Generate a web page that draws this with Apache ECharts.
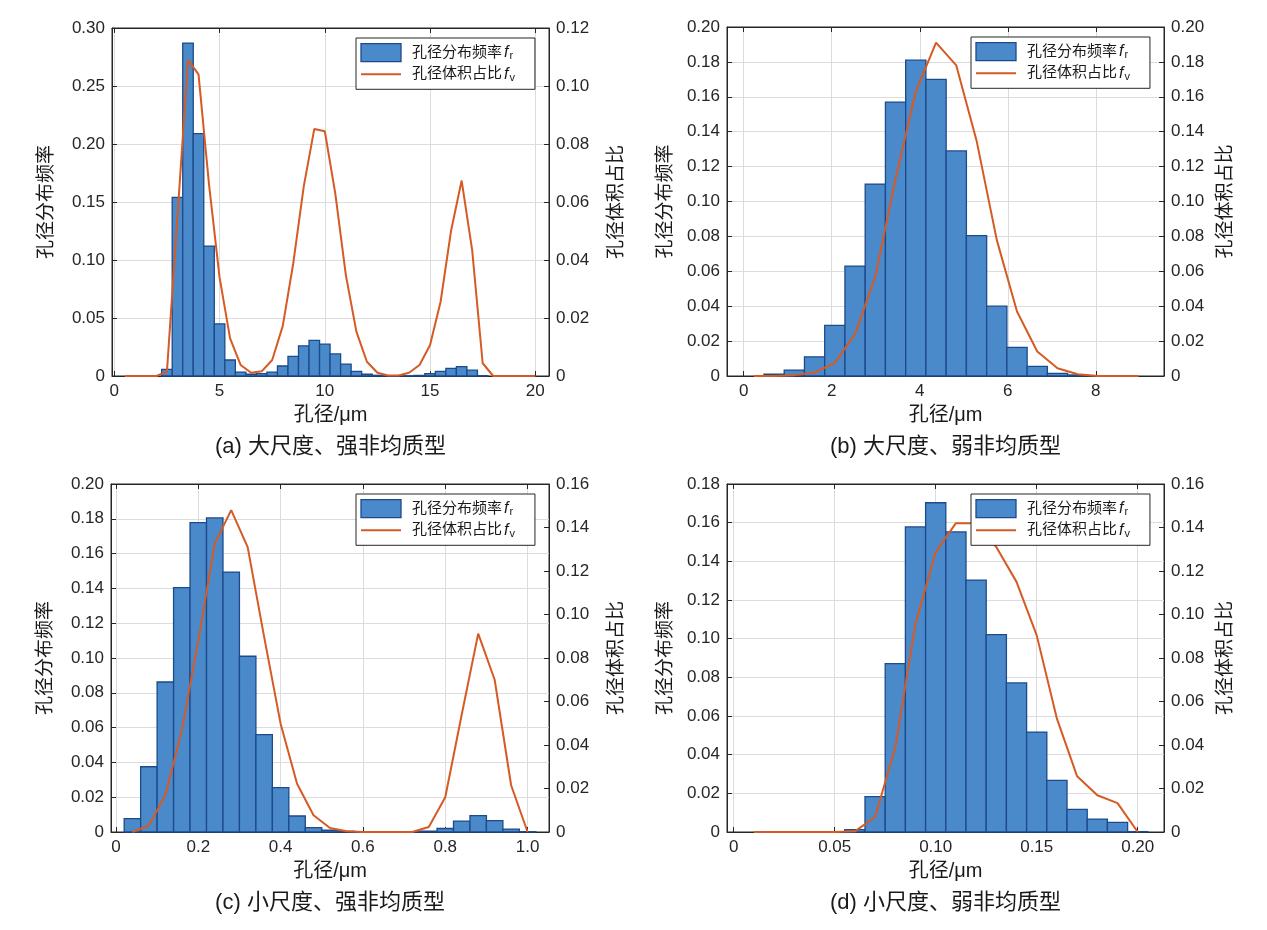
<!DOCTYPE html>
<html lang="zh">
<head>
<meta charset="utf-8">
<title>孔径分布频率与孔径体积占比</title>
<style>
  html, body { margin: 0; padding: 0; background: #fff; }
  #main { width: 1267px; height: 930px; }
</style>
</head>
<body>
<div id="main"></div>
<script src="https://cdn.jsdelivr.net/npm/echarts@6/dist/echarts.min.js"></script>
<script>
// (a) 大尺度、强非均质型  bin width 0.5 um
var aBinX = [2.5, 3, 3.5, 4, 4.5, 5, 5.5, 6, 6.5, 7, 7.5, 8, 8.5, 9, 9.5, 10, 10.5, 11, 11.5, 12,
             12.5, 13, 13.5, 14, 14.5, 15, 15.5, 16, 16.5, 17, 17.5];
var aFreq = [0.0057, 0.154, 0.287, 0.209, 0.112, 0.045, 0.0138, 0.0034, 0.0015, 0.002, 0.0034, 0.0086,
             0.017, 0.026, 0.0307, 0.0275, 0.019, 0.0103, 0.004, 0.0015, 0.0006, 0.0002, 0, 0.0002,
             0.0005, 0.002, 0.004, 0.0066, 0.008, 0.005, 0.0003];
var aVolX = [0.5, 1, 1.5, 2, 2.5, 3, 3.5, 4, 4.5, 5, 5.5, 6, 6.5, 7, 7.5, 8, 8.5, 9, 9.5, 10,
             10.5, 11, 11.5, 12, 12.5, 13, 13.5, 14, 14.5, 15, 15.5, 16, 16.5, 17, 17.5, 18, 18.5, 19, 19.5, 20];
var aVol = [0, 0, 0, 0, 0.0015, 0.055, 0.109, 0.104, 0.066, 0.034, 0.013, 0.0038, 0.0011, 0.0016,
            0.0055, 0.0172, 0.0388, 0.0654, 0.0852, 0.0844, 0.0628, 0.0348, 0.0153, 0.0049, 0.0011,
            0.0002, 0.0002, 0.0011, 0.0038, 0.0107, 0.0256, 0.0502, 0.0674, 0.0434, 0.0044, 0, 0, 0, 0, 0];
var aTicks = [0, 5, 10, 15, 20];

// (b) 大尺度、弱非均质型  bin width 0.46 um
var bBinX = [0.69, 1.15, 1.61, 2.07, 2.53, 2.99, 3.45, 3.91, 4.37, 4.83, 5.29, 5.75, 6.21, 6.67, 7.13, 7.59, 8.05];
var bFreq = [0.001, 0.0034, 0.011, 0.029, 0.063, 0.110, 0.157, 0.181, 0.170, 0.129, 0.0805, 0.040,
             0.0164, 0.0055, 0.0015, 0.0006, 0.0002];
var bVolX = [0.23, 0.69, 1.15, 1.61, 2.07, 2.53, 2.99, 3.45, 3.91, 4.37, 4.83, 5.29, 5.75, 6.21, 6.67,
             7.13, 7.59, 8.05, 8.51, 8.97];
var bVol = [0, 0, 0.0005, 0.002, 0.0075, 0.024, 0.057, 0.113, 0.163, 0.191, 0.178, 0.135, 0.078, 0.037,
            0.014, 0.0044, 0.001, 0, 0, 0];
var bTicks = [0, 2, 4, 6, 8];

// (c) 小尺度、强非均质型  bin width 0.04 um
var cBinX = [0.04, 0.08, 0.12, 0.16, 0.20, 0.24, 0.28, 0.32, 0.36, 0.40, 0.44, 0.48, 0.52, 0.56, 0.60,
             0.64, 0.68, 0.72, 0.76, 0.80, 0.84, 0.88, 0.92, 0.96, 1.00];
var cFreq = [0.0077, 0.0375, 0.0862, 0.1404, 0.1778, 0.1805, 0.1494, 0.101, 0.056, 0.0255, 0.0092, 0.0025,
             0.001, 0.0004, 0.0001, 0, 0, 0.0001, 0.0005, 0.002, 0.0063, 0.0094, 0.0065, 0.0017, 0.0002];
var cVolX = cBinX;
var cVol = [0, 0.003, 0.0169, 0.0467, 0.088, 0.1326, 0.148, 0.131, 0.0897, 0.0498, 0.0222, 0.0077, 0.0018,
            0.0003, 0, 0, 0, 0, 0.0023, 0.016, 0.054, 0.0912, 0.070, 0.0215, 0];
var cTicks = [0, 0.2, 0.4, 0.6, 0.8, 1.0];

// (d) 小尺度、弱非均质型  bin width 0.01 um
var dBinX = [0.06, 0.07, 0.08, 0.09, 0.10, 0.11, 0.12, 0.13, 0.14, 0.15, 0.16, 0.17, 0.18, 0.19, 0.20];
var dFreq = [0.0012, 0.0183, 0.0871, 0.1578, 0.1703, 0.1552, 0.1303, 0.1021, 0.0771, 0.0517, 0.0267,
             0.0117, 0.0067, 0.005, 0.0002];
var dVolX = [0.01, 0.02, 0.03, 0.04, 0.05, 0.06, 0.07, 0.08, 0.09, 0.10, 0.11, 0.12, 0.13, 0.14, 0.15,
             0.16, 0.17, 0.18, 0.19, 0.20];
var dVol = [0, 0, 0, 0, 0, 0.0003, 0.0069, 0.039, 0.0958, 0.1287, 0.142, 0.142, 0.131, 0.115, 0.0904,
            0.0521, 0.0256, 0.0169, 0.0133, 0];
var dTicks = [0, 0.05, 0.10, 0.15, 0.20];

var FONT = "'Liberation Sans', 'Noto Sans CJK SC', sans-serif";
var AX = '#262626';
var BAR_FILL = '#4a8aca';
var BAR_EDGE = '#1c4a8a';
var LINE = '#d65a24';
var FREQ = '孔径分布频率';
var VOL = '孔径体积占比';

var panels = [
  { title: '(a) 大尺度、强非均质型', grid: {left: 112, top: 28, width: 437, height: 348},
    binW: 0.5, binX: aBinX, freq: aFreq, volX: aVolX, vol: aVol, ticks: aTicks, xmin: -0.11, xmax: 20.65,
    xdec: 0, y1: [0.30, 0.05], y2: [0.12, 0.02], gapL: 56, gapR: 58 },
  { title: '(b) 大尺度、弱非均质型', grid: {left: 727, top: 27, width: 437, height: 349},
    binW: 0.46, binX: bBinX, freq: bFreq, volX: bVolX, vol: bVol, ticks: bTicks, xmin: -0.38, xmax: 9.55,
    xdec: 0, y1: [0.20, 0.02], y2: [0.20, 0.02], gapL: 52, gapR: 52 },
  { title: '(c) 小尺度、强非均质型', grid: {left: 111, top: 484, width: 438, height: 348},
    binW: 0.04, binX: cBinX, freq: cFreq, volX: cVolX, vol: cVol, ticks: cTicks, xmin: -0.012, xmax: 1.052,
    xdec: 1, y1: [0.20, 0.02], y2: [0.16, 0.02], gapL: 56, gapR: 58 },
  { title: '(d) 小尺度、弱非均质型', grid: {left: 727, top: 484, width: 437, height: 348},
    binW: 0.01, binX: dBinX, freq: dFreq, volX: dVolX, vol: dVol, ticks: dTicks, xmin: -0.0033, xmax: 0.213,
    xdec: 2, y1: [0.18, 0.02], y2: [0.16, 0.02], gapL: 52, gapR: 52 }
];

function fmt(dec) {
  return function (v) { return v === 0 ? '0' : v.toFixed(dec); };
}

function histRender(w) {
  return function (params, api) {
    var c = api.value(0), h = api.value(1);
    var p0 = api.coord([c - w / 2, h]);
    var p1 = api.coord([c + w / 2, 0]);
    return {
      type: 'rect',
      shape: {x: p0[0], y: p0[1], width: p1[0] - p0[0], height: p1[1] - p0[1]},
      style: {fill: BAR_FILL, stroke: BAR_EDGE, lineWidth: 1.3}
    };
  };
}

var grids = [], xAxes = [], yAxes = [], series = [], legends = [], texts = [];

panels.forEach(function (p, i) {
  var g = p.grid;
  grids.push({left: g.left, top: g.top, width: g.width, height: g.height, show: true,
              borderColor: AX, borderWidth: 1, backgroundColor: '#fff', containLabel: false});

  var tickCfg = {show: true, inside: true, length: 5, customValues: p.ticks, lineStyle: {color: AX}};
  xAxes.push({
    type: 'value', gridIndex: i, position: 'bottom', min: p.xmin, max: p.xmax,
    name: '孔径/μm', nameLocation: 'middle', nameGap: 29,
    nameTextStyle: {fontSize: 20, color: '#1a1a1a', fontFamily: FONT},
    axisLine: {show: true, onZero: false, lineStyle: {color: AX}},
    axisTick: tickCfg,
    axisLabel: {customValues: p.ticks, formatter: fmt(p.xdec), fontSize: 17, color: AX,
                fontFamily: FONT, margin: 7, showMinLabel: true, showMaxLabel: true},
    splitLine: {show: true, lineStyle: {color: '#dcdcdc'}}
  });
  xAxes.push({
    type: 'value', gridIndex: i, position: 'top', min: p.xmin, max: p.xmax,
    axisLine: {show: true, onZero: false, lineStyle: {color: AX}},
    axisTick: tickCfg,
    axisLabel: {show: false},
    splitLine: {show: false}
  });

  [['left', p.y1, FREQ, p.gapL], ['right', p.y2, VOL, p.gapR]].forEach(function (a) {
    yAxes.push({
      type: 'value', gridIndex: i, position: a[0], min: 0, max: a[1][0], interval: a[1][1],
      name: a[2], nameLocation: 'middle', nameRotate: 90, nameGap: a[3],
      nameTextStyle: {fontSize: 19, color: '#1a1a1a', fontFamily: FONT},
      axisLine: {show: true, onZero: false, lineStyle: {color: AX}},
      axisTick: {show: true, inside: true, length: 5, lineStyle: {color: AX}},
      axisLabel: {formatter: fmt(2), fontSize: 17, color: AX, fontFamily: FONT, margin: 7},
      splitLine: {show: a[0] === 'left', lineStyle: {color: '#dcdcdc'}}
    });
  });

  series.push({
    type: 'custom', name: FREQ, xAxisIndex: 2 * i, yAxisIndex: 2 * i,
    renderItem: histRender(p.binW),
    encode: {x: 0, y: 1},
    itemStyle: {color: BAR_FILL},
    data: p.binX.map(function (x, k) { return [x, p.freq[k]]; }),
    z: 2
  });
  series.push({
    type: 'line', name: VOL, xAxisIndex: 2 * i, yAxisIndex: 2 * i + 1,
    symbol: 'none', smooth: false,
    lineStyle: {color: LINE, width: 2},
    itemStyle: {color: LINE},
    data: p.volX.map(function (x, k) { return [x, p.vol[k]]; }),
    z: 3
  });

  var lx = g.left + g.width - 193, ly = g.top + 10;
  legends.push({
    orient: 'vertical', left: lx, top: ly, selectedMode: false,
    backgroundColor: '#fff', borderColor: AX, borderWidth: 1, borderRadius: 0,
    padding: [5, 20, 6, 4], itemGap: 4, itemWidth: 40, itemHeight: 18,
    data: [
      {name: FREQ, icon: 'rect', itemStyle: {color: BAR_FILL, borderColor: BAR_EDGE, borderWidth: 1.3}},
      {name: VOL, itemStyle: {color: 'rgba(0,0,0,0)', borderColor: 'rgba(0,0,0,0)', borderWidth: 0, opacity: 0},
       lineStyle: {color: LINE, width: 2}}
    ],
    formatter: function (name) {
      return name === FREQ ? '{t|' + name + '}{i|f}{s|r}' : '{t|' + name + '}{i|f}{s|v}';
    },
    textStyle: {
      fontFamily: FONT, fontSize: 15, color: '#1a1a1a',
      rich: {
        t: {fontFamily: FONT, fontSize: 15, lineHeight: 18, color: '#1a1a1a', padding: [0, 0, 0, 6]},
        i: {fontFamily: FONT, fontSize: 16, lineHeight: 18, fontStyle: 'italic', color: '#1a1a1a', padding: [0, 1, 0, 2]},
        s: {fontFamily: FONT, fontSize: 11, lineHeight: 10, verticalAlign: 'bottom', color: '#1a1a1a'}
      }
    },
    z: 10
  });

  texts.push({
    type: 'text', x: g.left + g.width / 2, y: g.top + g.height + 71,
    style: {text: p.title, font: '22px ' + FONT, fill: '#1a1a1a', align: 'center', verticalAlign: 'middle'}
  });
});

var chart = echarts.init(document.getElementById('main'), null, {renderer: 'canvas'});
chart.setOption({
  animation: false,
  backgroundColor: '#fff',
  grid: grids,
  xAxis: xAxes,
  yAxis: yAxes,
  legend: legends,
  series: series,
  graphic: texts
});
</script>
</body>
</html>
